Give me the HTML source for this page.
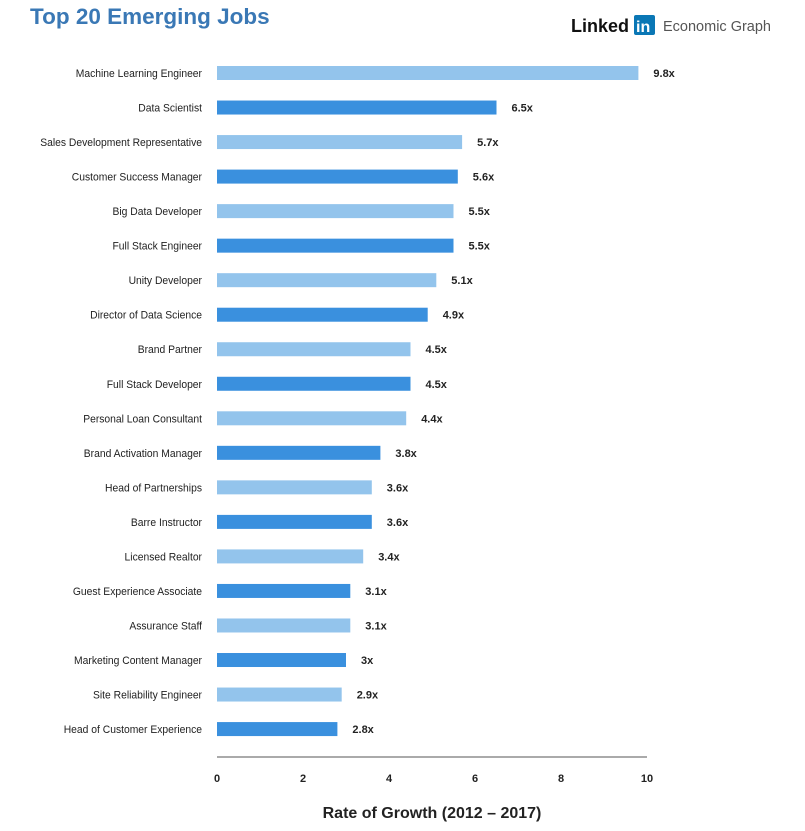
<!DOCTYPE html>
<html><head><meta charset="utf-8"><style>
body{margin:0;background:#fff;width:805px;height:826px;overflow:hidden;font-family:"Liberation Sans",sans-serif}
</style></head><body>
<svg width="805" height="826" xmlns="http://www.w3.org/2000/svg">
<text x="30" y="24" font-size="22.5" font-weight="bold" fill="#3a78b5">Top 20 Emerging Jobs</text>
<g>
<text x="571" y="32" font-size="18" font-weight="bold" fill="#111">Linked</text>
<rect x="634" y="15" width="21" height="20" rx="2" fill="#0a77b5"/>
<text x="636" y="32" font-size="16" font-weight="bold" fill="#fff">in</text>
<text x="663" y="31" font-size="14.5" fill="#555">Economic Graph</text>
</g>
<g id="bars"></g>
<line x1="217" y1="757" x2="647" y2="757" stroke="#555" stroke-width="1"/>
<g id="ticks"></g>
<text x="432" y="818" font-size="16" font-weight="bold" text-anchor="middle" fill="#222">Rate of Growth (2012 – 2017)</text>
</svg>
<script>
const categories=["Machine Learning Engineer","Data Scientist","Sales Development Representative","Customer Success Manager","Big Data Developer","Full Stack Engineer","Unity Developer","Director of Data Science","Brand Partner","Full Stack Developer","Personal Loan Consultant","Brand Activation Manager","Head of Partnerships","Barre Instructor","Licensed Realtor","Guest Experience Associate","Assurance Staff","Marketing Content Manager","Site Reliability Engineer","Head of Customer Experience"];
const values=[9.8,6.5,5.7,5.6,5.5,5.5,5.1,4.9,4.5,4.5,4.4,3.8,3.6,3.6,3.4,3.1,3.1,3,2.9,2.8];
const valueLabels=["9.8x","6.5x","5.7x","5.6x","5.5x","5.5x","5.1x","4.9x","4.5x","4.5x","4.4x","3.8x","3.6x","3.6x","3.4x","3.1x","3.1x","3x","2.9x","2.8x"];
const ticks=[0,2,4,6,8,10];
const NS="http://www.w3.org/2000/svg";
const x=v=>217+v*43;
const y=i=>73+i*34.53;
const bars=document.getElementById('bars');
function mk(tag,attrs,parent){const e=document.createElementNS(NS,tag);for(const k in attrs)e.setAttribute(k,attrs[k]);parent.appendChild(e);return e;}
categories.forEach((c,i)=>{
  const r=mk('rect',{x:x(0),y:y(i)-7,width:x(values[i])-x(0),height:14,fill:i%2?'#3a90de':'#93c4ec'},bars);
  
  
  const l=mk('text',{x:202,y:y(i)+4,'font-size':11,'text-anchor':'end',fill:'#222',transform:'translate(202,0) scale(0.94,1) translate(-202,0)'},bars);
  l.textContent=c;
  
  
  const v=mk('text',{x:x(values[i])+15,y:y(i)+4,'font-size':11,'font-weight':'bold',fill:'#222'},bars);
  v.textContent=valueLabels[i];
  
  
});
const tg=document.getElementById('ticks');
ticks.forEach(t=>{
  const e=mk('text',{x:x(t),y:782,'font-size':11,'font-weight':'bold','text-anchor':'middle',fill:'#222'},tg);
  e.textContent=t;
  
  
});
</script>
</body></html>
